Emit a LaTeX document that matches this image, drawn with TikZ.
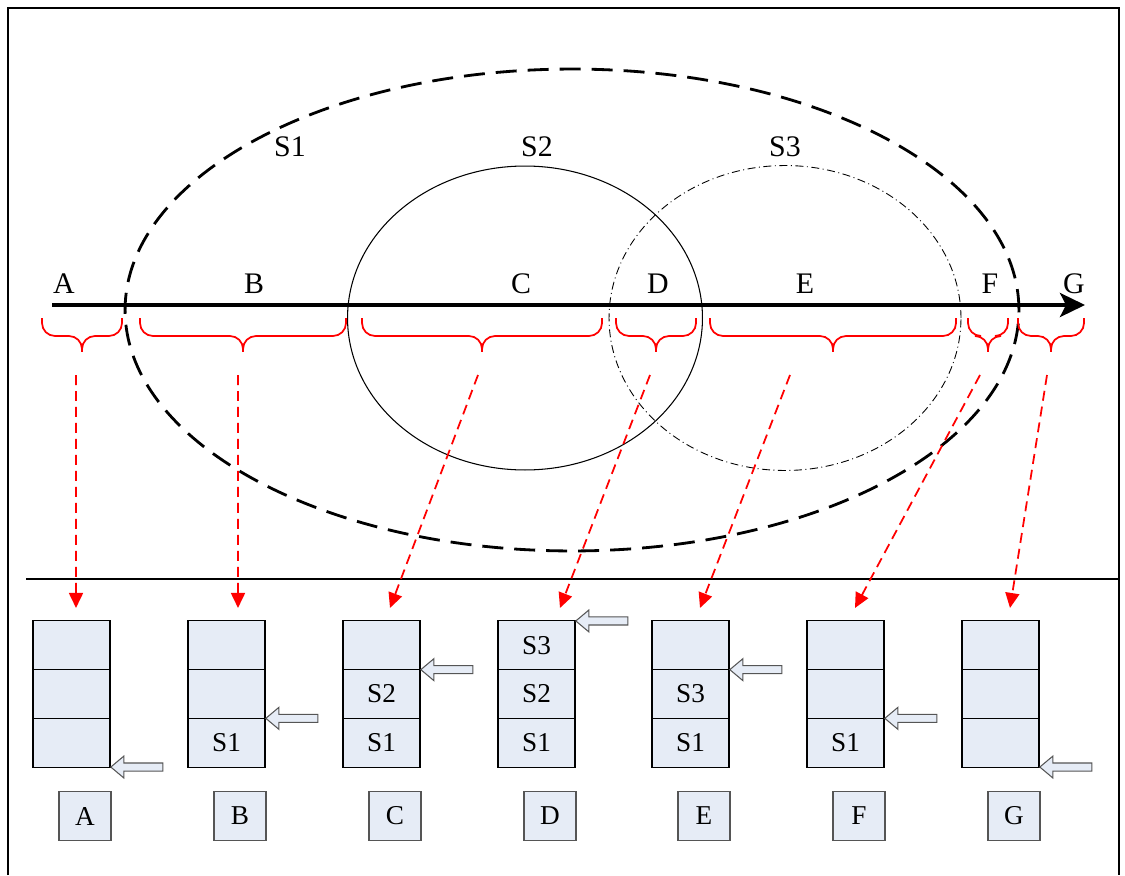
\documentclass[tikz,border=0pt]{standalone}
\usepackage{fontspec}
\setmainfont{Liberation Serif}
\usetikzlibrary{arrows.meta, positioning, shapes.arrows, calc}
\definecolor{cfill}{HTML}{E6ECF6}
\definecolor{cred}{HTML}{FF0000}
\definecolor{cedge}{HTML}{555555}
\tikzset{
  every picture/.style={x=0.02cm, y=-0.02cm},
  cell/.style={draw=black, fill=cfill, line width=0.6pt, minimum width=1.54cm, minimum height=0.974cm, outer sep=0pt, inner sep=0pt, font=\fontsize{15.5}{18}\selectfont},
  tag/.style={draw=cedge, fill=cfill, line width=0.8pt, minimum width=1.04cm, minimum height=0.98cm, inner sep=0pt, font=\fontsize{15.5}{18}\selectfont},
  seg/.style={font=\fontsize{17}{20}\selectfont, inner sep=0pt},
  pointer/.style={single arrow, draw=cedge, fill=cfill, line width=0.6pt, shape border rotate=180, minimum height=1.04cm, minimum width=0.42cm, single arrow head extend=0.14cm, single arrow tip angle=80, inner sep=0.07cm, anchor=tip},
  bracket/.style={draw=cred, line width=1pt, rounded corners=0.26cm,
    to path={let \p1=(\tikztostart), \p2=(\tikztotarget) in
      (\p1) -- (\x1,\y1-0.36cm) -- ({(\x1+\x2)/2},\y1-0.36cm) -- ({(\x1+\x2)/2},\y1-0.68cm)
      (\p2) -- (\x2,\y2-0.36cm) -- ({(\x1+\x2)/2},\y2-0.36cm) -- ({(\x1+\x2)/2},\y2-0.68cm)}},
  jump/.style={-{Triangle[length=0.3cm, width=0.28cm]}, draw=cred, dash pattern=on 0.2cm off 0.12cm, line width=1pt},
  axis/.style={-{Stealth[length=0.5cm, width=0.48cm, inset=0.12cm]}, line width=2.2pt},
}
\begin{document}
\begin{tikzpicture}
  \useasboundingbox (0,0) rectangle (1125,875);
  % frame and divider
  \draw[line width=1.1pt] (8,875) |- (1119,8) -- (1119,875);
  \draw[line width=1.1pt] (26,579) -- (1119,579);
  % the three sets
  \draw[line width=1.6pt, dash pattern=on 0.42cm off 0.22cm] (572,310) ellipse [x radius=8.94cm, y radius=4.82cm];
  \draw[line width=0.6pt] (525,318) ellipse [x radius=3.55cm, y radius=3.04cm];
  \draw[line width=0.5pt, dash pattern=on 0.16cm off 0.07cm on 0.02cm off 0.07cm] (785,318) ellipse [x radius=3.52cm, y radius=3.05cm];
  \node[seg] (setS1) at (290,147) {S1};
  \node[seg] (setS2) at (537,147) {S2};
  \node[seg] (setS3) at (785,147) {S3};
  % time line with its segments
  \coordinate (t0) at (52,305);
  \coordinate (t1) at (1085,305);
  \draw[axis] (t0) -- (t1);
  \foreach \n/\x in {A/64, B/254, C/521, D/658, E/805, F/990, G/1074}
    \node[seg] (seg\n) at (\x,284) {\n};
  \foreach \l/\r in {42/122, 140/346, 362/602, 616/696, 710/956, 968/1008, 1018/1084}
    \draw[bracket] (\l,318) to (\r,318);
  % stacks
  \foreach \n/\x/\a/\b/\c/\pa/\sx/\dx in {
      A/71.5/{}/{}/{}/3.south east/76/4.5,
      B/226.5/{}/{}/S1/3.north east/238/11.5,
      C/381.5/{}/S2/S1/2.north east/478/8.5,
      D/536.5/S3/S2/S1/1.north east/650/23.5,
      E/690.5/{}/S3/S1/2.north east/790/9.5,
      F/845.5/{}/{}/S1/3.north east/980/9.5,
      G/1000.5/{}/{}/{}/3.south east/1047/9.5}{
    \node[cell] (st\n1) at (\x,645.3) {\a};
    \node[cell, below=0pt of st\n1] (st\n2) {\b};
    \node[cell, below=0pt of st\n2] (st\n3) {\c};
    \node[tag] (tag\n) at (\x+13.5,816) {\n};
    \node[pointer] (ptr\n) at (st\n\pa) {};
    \coordinate (src\n) at (\sx,375);
    \path (st\n1.north) ++(\dx,-13) coordinate (dst\n);
    \draw[jump] (src\n) -- (dst\n);
  }
\end{tikzpicture}
\end{document}
